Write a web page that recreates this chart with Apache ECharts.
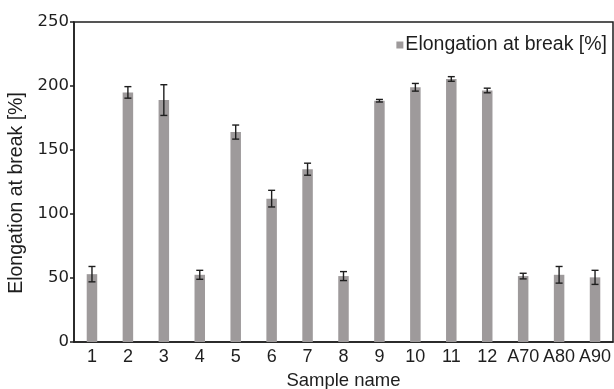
<!DOCTYPE html>
<html>
<head>
<meta charset="utf-8">
<script src="https://cdn.jsdelivr.net/npm/echarts@6/dist/echarts.min.js"></script>
<style>
  html, body { margin: 0; padding: 0; background: #ffffff; }
  #chart { width: 614px; height: 389px; }
</style>
</head>
<body>
<div id="chart"></div>
<script>
// Sample names along the x axis
const categories = ['1', '2', '3', '4', '5', '6', '7', '8', '9', '10', '11', '12', 'A70', 'A80', 'A90'];
// Mean elongation at break [%]
const elongation = [53, 195, 189, 52.5, 164, 112, 135, 51.5, 188.5, 199, 205.5, 196.5, 51.5, 52.5, 50.5];
// Standard deviation for each sample [%]
const deviation = [6, 4.5, 12, 3.5, 5.5, 6.5, 4.7, 3.5, 1, 3, 1.8, 1.8, 2.2, 6.5, 5.5];
// Y axis ticks
const yTicks = [0, 50, 100, 150, 200, 250];

const FONT = 'Liberation Sans, Arial, sans-serif';
const TEXT = '#1e1e1e';

const errorData = categories.map((c, i) => [i, elongation[i] - deviation[i], elongation[i] + deviation[i]]);

const chart = echarts.init(document.getElementById('chart'), null, { renderer: 'canvas' });
chart.setOption({
  animation: false,
  backgroundColor: '#ffffff',
  grid: {
    left: 74, right: 1, top: 22, bottom: 47,
    outerBoundsMode: 'none',
    containLabel: false,
    show: true, borderColor: '#1e1e1e', borderWidth: 1.5
  },
  legend: {
    show: true,
    right: 2,
    top: 30,
    itemWidth: 7,
    itemHeight: 7,
    icon: 'rect',
    data: ['Elongation at break [%]'],
    textStyle: { fontFamily: FONT, fontSize: 19.5, color: TEXT, padding: [0, 0, 0, -3] }
  },
  xAxis: {
    type: 'category',
    data: categories,
    name: 'Sample name',
    nameLocation: 'middle',
    nameGap: 29,
    nameTextStyle: { fontFamily: FONT, fontSize: 18.5, color: TEXT },
    axisLine: { lineStyle: { color: '#1e1e1e', width: 1.5 } },
    axisTick: { show: false },
    axisLabel: { fontFamily: FONT, fontSize: 18, color: TEXT, margin: 6, interval: 0 }
  },
  yAxis: {
    type: 'value',
    min: yTicks[0],
    max: yTicks[yTicks.length - 1],
    interval: 50,
    name: 'Elongation at break [%]',
    nameLocation: 'middle',
    nameGap: 43,
    // extra end padding nudges the rotated title slightly downward
    nameTextStyle: { fontFamily: FONT, fontSize: 19.5, color: TEXT, padding: [0, 22, 0, 0] },
    axisLine: { show: true, lineStyle: { color: '#1e1e1e', width: 1.5 } },
    axisTick: { show: true, length: 4, lineStyle: { color: '#1e1e1e', width: 1.5 } },
    splitLine: { show: false },
    axisLabel: { fontFamily: 'DejaVu Sans, sans-serif', fontSize: 16.5, color: TEXT, margin: 5 }
  },
  series: [
    {
      name: 'Elongation at break [%]',
      type: 'bar',
      data: elongation,
      barWidth: 10.5,
      itemStyle: { color: '#9e9a9b' }
    },
    {
      name: 'error',
      type: 'custom',
      data: errorData,
      z: 5,
      renderItem: function (params, api) {
        const x = api.value(0);
        const lo = api.coord([x, api.value(1)]);
        const hi = api.coord([x, api.value(2)]);
        const cap = 3.5;
        const style = { stroke: '#1e1e1e', lineWidth: 1.4 };
        return {
          type: 'group',
          children: [
            { type: 'line', shape: { x1: lo[0], y1: lo[1], x2: hi[0], y2: hi[1] }, style: style },
            { type: 'line', shape: { x1: lo[0] - cap, y1: lo[1], x2: lo[0] + cap, y2: lo[1] }, style: style },
            { type: 'line', shape: { x1: hi[0] - cap, y1: hi[1], x2: hi[0] + cap, y2: hi[1] }, style: style }
          ]
        };
      }
    }
  ]
});
</script>
</body>
</html>
